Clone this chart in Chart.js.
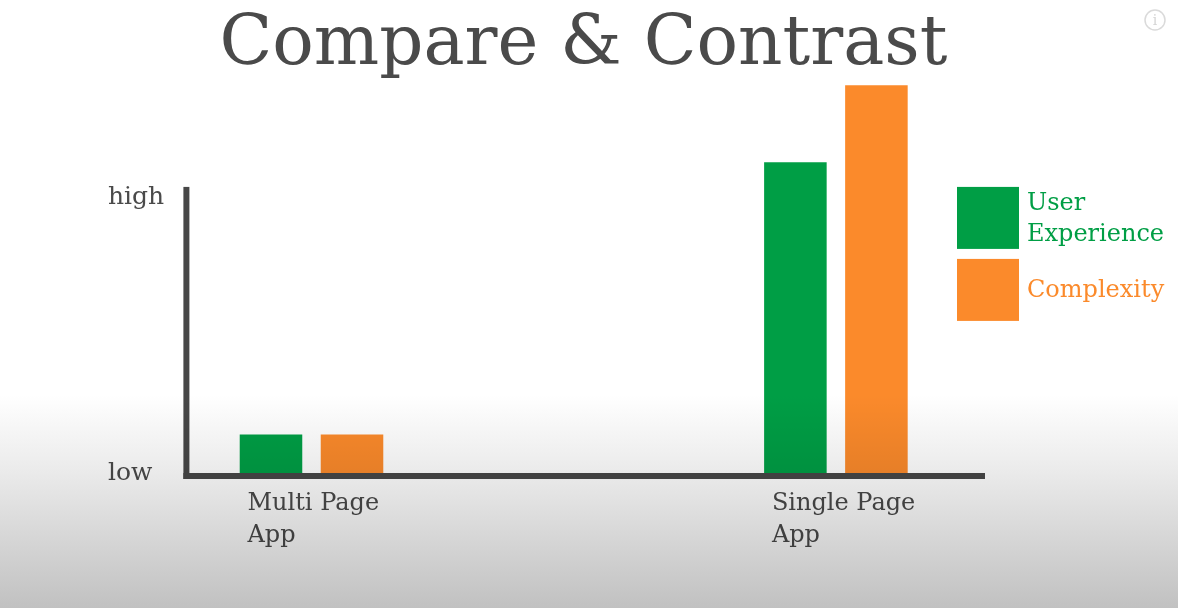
<!DOCTYPE html>
<html>
<head>
<meta charset="utf-8">
<script src="https://cdn.jsdelivr.net/npm/chart.js@4/dist/chart.umd.min.js"></script>
<style>
  html, body { margin: 0; padding: 0; background: #ffffff; }
  #wrap { width: 1178px; height: 608px; position: relative; }
</style>
</head>
<body>
<div id="wrap"><canvas id="c"></canvas></div>
<script>
// ---- data ----
const categories = [["Multi Page", "App"], "", ["Single Page", "App"]];
const userExperience = [1.4, null, 11.3];
const complexity = [1.4, null, 14.1];
const yTickValues = [0, 10];
const yTickLabels = ["low", "high"];
const seriesNames = ["User Experience", "Complexity"];
const titleText = "Compare & Contrast";

// ---- styles ----
const FONT = '"DejaVu Serif", serif';
const GREEN = "#009E45";
const ORANGE = "#FB8A2B";
const TEXT = "#4a4a4a";
const AXIS = "#474747";
const AXIS_TOP = 10.4;

// custom legend as a layout box on the right
const legendBoxPlugin = {
  id: "legendBox",
  beforeInit(chart) {
    const box = {
      position: "right", weight: 0, fullSize: false,
      options: { stackWeight: 1 },
      width: 0, height: 0, left: 0, top: 0, right: 0, bottom: 0,
      isHorizontal() { return false; },
      update(maxWidth, maxHeight) { this.width = 92; this.height = maxHeight; },
      draw(chartArea) {
        const ctx = chart.ctx;
        const ys = chart.scales.y;
        let top = ys.getPixelForValue(AXIS_TOP);
        const x0 = chart.chartArea.right - 10;
        const size = 62, gap = 10, lh = 31;
        ctx.save();
        ctx.font = "24px " + FONT;
        ctx.textBaseline = "middle";
        ctx.textAlign = "left";
        chart.data.datasets.forEach(ds => {
          ctx.fillStyle = ds.backgroundColor;
          ctx.fillRect(x0, top, size, size);
          const words = ds.label.split(" ");
          const lines = [];
          let cur = "";
          words.forEach(w => {
            const t = cur ? cur + " " + w : w;
            if (cur && ctx.measureText(t).width > 170) { lines.push(cur); cur = w; }
            else cur = t;
          });
          if (cur) lines.push(cur);
          const cy = top + size / 2 - (lines.length - 1) * lh / 2 + 1;
          lines.forEach((l, i) => ctx.fillText(l, x0 + size + 8, cy + i * lh));
          top += size + gap;
        });
        ctx.restore();
      }
    };
    Chart.layouts.addBox(chart, box);
  }
};

const decorPlugin = {
  id: "decor",
  beforeDraw(chart) {
    const ctx = chart.ctx;
    ctx.save();
    ctx.fillStyle = "#ffffff";
    ctx.fillRect(0, 0, chart.width, chart.height);
    ctx.restore();
  },
  afterDatasetsDraw(chart) {
    const ctx = chart.ctx;
    const a = chart.chartArea;
    const ys = chart.scales.y;
    const yTop = ys.getPixelForValue(AXIS_TOP);
    const yBot = ys.getPixelForValue(0);
    ctx.save();
    ctx.fillStyle = AXIS;
    ctx.fillRect(a.left + 3, yTop, 6, yBot + 6 - yTop);
    ctx.fillRect(a.left + 3, yBot, a.right + 18 - (a.left + 3), 6);
    ctx.restore();
  },
  afterDraw(chart) {
    const ctx = chart.ctx;
    ctx.save();
    // info icon
    ctx.strokeStyle = "#dadada";
    ctx.lineWidth = 1.5;
    ctx.beginPath();
    ctx.arc(1155, 20, 10, 0, Math.PI * 2);
    ctx.stroke();
    ctx.fillStyle = "#d4d4d4";
    ctx.font = "14px " + FONT;
    ctx.textAlign = "center";
    ctx.textBaseline = "middle";
    ctx.fillText("i", 1155, 21);
    // bottom vignette
    const g = ctx.createLinearGradient(0, 395, 0, 608);
    g.addColorStop(0, "#ffffff");
    g.addColorStop(0.35, "#ebebeb");
    g.addColorStop(1, "#c1c1c1");
    ctx.globalCompositeOperation = "multiply";
    ctx.fillStyle = g;
    ctx.fillRect(0, 395, chart.width, 213);
    ctx.restore();
  }
};

new Chart(document.getElementById("c"), {
  type: "bar",
  data: {
    labels: categories,
    datasets: [
      { label: seriesNames[0], data: userExperience, backgroundColor: GREEN,
        categoryPercentage: 0.618, barPercentage: 0.772 },
      { label: seriesNames[1], data: complexity, backgroundColor: ORANGE,
        categoryPercentage: 0.618, barPercentage: 0.772 }
    ]
  },
  plugins: [legendBoxPlugin, decorPlugin],
  options: {
    responsive: true,
    maintainAspectRatio: false,
    animation: false,
    layout: { padding: { left: 108, right: 119, top: 0, bottom: 0 } },
    plugins: {
      legend: { display: false },
      tooltip: { enabled: false },
      title: {
        display: true,
        text: titleText,
        color: TEXT,
        font: { family: FONT, size: 69, weight: "normal", lineHeight: 1 },
        padding: { top: 12, bottom: 0 }
      }
    },
    scales: {
      x: {
        grid: { display: false },
        border: { display: false },
        ticks: {
          color: TEXT,
          font: { family: FONT, size: 24, lineHeight: 1.333 },
          align: "start",
          labelOffset: -64,
          padding: 7,
          maxRotation: 0,
          autoSkip: false
        },
        afterFit(s) { s.height = 135; }
      },
      y: {
        min: 0,
        max: 14.25,
        grid: { display: false },
        border: { display: false },
        afterBuildTicks(s) { s.ticks = yTickValues.map(v => ({ value: v })); },
        afterFit(s) { s.width = 72.4; },
        ticks: {
          color: TEXT,
          crossAlign: "far",
          font: { family: FONT, size: 25 },
          callback(v) { const i = yTickValues.indexOf(v); return i >= 0 ? yTickLabels[i] : ""; }
        }
      }
    }
  }
});
</script>
</body>
</html>
